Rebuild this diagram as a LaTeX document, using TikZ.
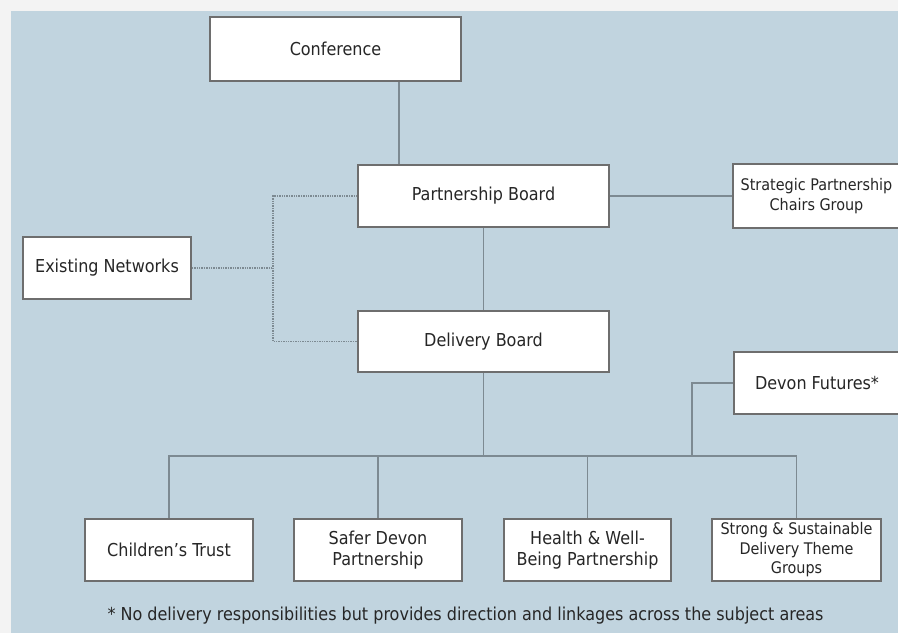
\documentclass[tikz,border=0pt]{standalone}
\usepackage{fontspec}
\setmainfont{DejaVu Sans Condensed}
\definecolor{bgpage}{HTML}{F3F3F3}
\definecolor{bgblue}{HTML}{C1D4DF}
\definecolor{boxline}{HTML}{6E6E6E}
\definecolor{conline}{HTML}{7D8A92}
\definecolor{txt}{HTML}{262626}
\begin{document}
\begin{tikzpicture}[x=1pt,y=1pt,
  box/.style={draw=boxline,line width=1.4pt,fill=white,inner sep=0pt,align=center,text=txt,font=\fontsize{17.8}{21}\selectfont},
  conn/.style={draw=conline,line width=1.1pt},
  dotconn/.style={draw=conline,line width=1.1pt,dash pattern=on 1.4pt off 1pt}]
\useasboundingbox (0,0) rectangle (898,-633);
\fill[bgpage] (0,0) rectangle (898,-633);
\fill[bgblue] (11,-11) rectangle (898,-633);
\begin{scope}
\clip (0,0) rectangle (898,-633);
\node[box,minimum width=251,minimum height=64] (conf) at (335.5,-49) {Conference};
\node[box,minimum width=251,minimum height=62] (pb) at (483.5,-196) {Partnership Board};
\node[box,minimum width=167,minimum height=64,font=\fontsize{16}{19.5}\selectfont] (spc) at (816.5,-196) {Strategic Partnership\\Chairs Group};
\node[box,minimum width=168,minimum height=62] (en) at (107,-268) {Existing Networks};
\node[box,minimum width=251,minimum height=61] (db) at (483.5,-341.5) {Delivery Board};
\node[box,minimum width=166,minimum height=62] (df) at (817,-383) {Devon Futures*};
\node[box,minimum width=168,minimum height=62] (ct) at (169,-550) {Children’s Trust};
\node[box,minimum width=168,minimum height=62] (sdp) at (378,-550) {Safer Devon\\Partnership};
\node[box,minimum width=167,minimum height=62] (hwb) at (587.5,-550) {Health \& Well-\\Being Partnership};
\node[box,minimum width=169,minimum height=62,font=\fontsize{16}{19.5}\selectfont] (ssd) at (796.5,-550) {Strong \& Sustainable\\Delivery Theme\\Groups};
\end{scope}
\node[text=txt,font=\fontsize{17.8}{20}\selectfont,inner sep=0pt] (note) at (465.5,-616) {* No delivery responsibilities but provides direction and linkages across the subject areas};
\coordinate (cx) at (399,0);
\coordinate (ex) at (273,0);
\coordinate (bus) at (0,-456);
\coordinate (dfx) at (692,-456);
% connectors
\draw[conn] (conf.south -| cx) -- (pb.north -| cx);
\draw[conn] (pb.south) -- (db.north);
\draw[conn] (pb.east) -- (spc.west);
\draw[dotconn] (en.east) -- (en.east -| ex);
\draw[dotconn] (pb.west) -- (pb.west -| ex) -- (db.west -| ex) -- (db.west);
\draw[conn] (db.south) -- (db.south |- bus);
\draw[conn] (ct.north) -- (ct.north |- bus) -- (ssd.north |- bus) -- (ssd.north);
\draw[conn] (sdp.north) -- (sdp.north |- bus);
\draw[conn] (hwb.north) -- (hwb.north |- bus);
\draw[conn] (df.west) -| (dfx);
\end{tikzpicture}
\end{document}
